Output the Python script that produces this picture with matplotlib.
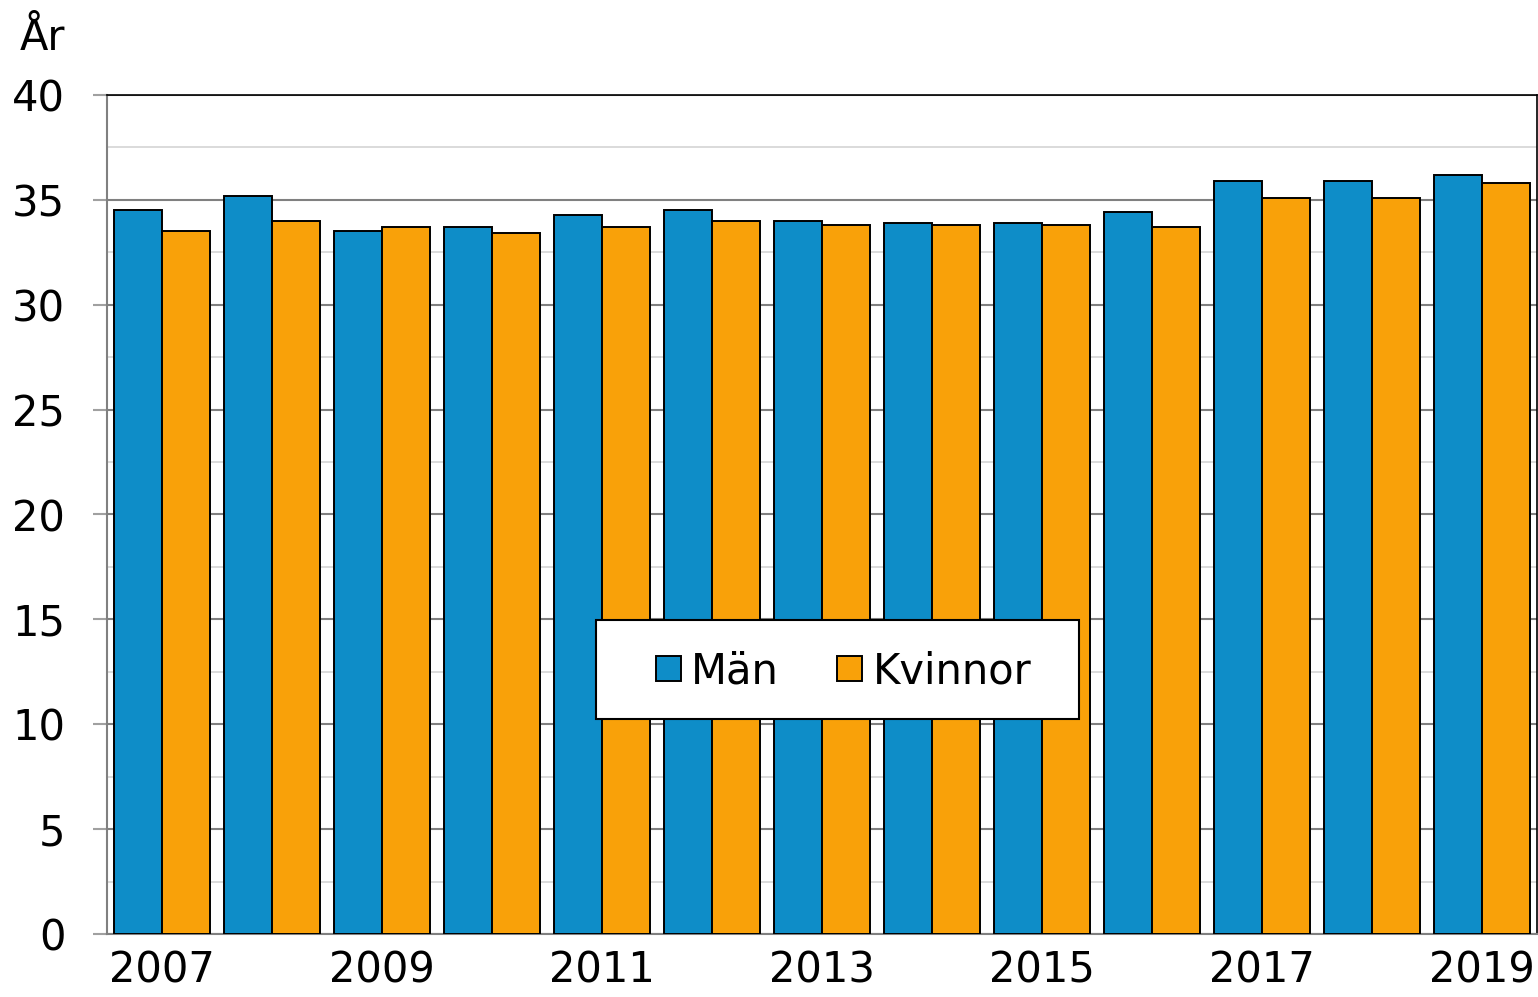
import numpy as np
import matplotlib
matplotlib.use('Agg')
import matplotlib.pyplot as plt
from matplotlib.ticker import MultipleLocator
from matplotlib.patches import Rectangle

# data
years = [2007, 2008, 2009, 2010, 2011, 2012, 2013, 2014, 2015, 2016, 2017, 2018, 2019]
man = [34.5, 35.2, 33.5, 33.7, 34.3, 34.5, 34.0, 33.9, 33.9, 34.4, 35.9, 35.9, 36.2]
kvinnor = [33.5, 34.0, 33.7, 33.4, 33.7, 34.0, 33.8, 33.8, 33.8, 33.7, 35.1, 35.1, 35.8]
year_labels = [str(y) if y % 2 == 1 else '' for y in years]

blue = '#0e8dc8'
orange = '#f9a109'

plt.rcParams['font.family'] = ['DejaVu Sans']

fig = plt.figure(figsize=(15.38, 9.97), dpi=100)
ax = fig.add_axes([107/1538, 1 - 934/997, 1430/1538, 839/997])

x = np.arange(len(years))
w = 48/110
ax.bar(x - w/2, man, width=w, color=blue, edgecolor='black', linewidth=1.4, label='Män', zorder=3)
ax.bar(x + w/2, kvinnor, width=w, color=orange, edgecolor='black', linewidth=1.4, label='Kvinnor', zorder=3)

ax.set_xlim(-0.5, len(years) - 0.5)
ax.set_ylim(0, 40)
ax.yaxis.set_major_locator(MultipleLocator(5))
ax.yaxis.set_minor_locator(MultipleLocator(2.5))
ax.grid(axis='y', which='major', color='#808080', linewidth=1.5, zorder=0)
ax.grid(axis='y', which='minor', color='#d4d4d4', linewidth=1.2, zorder=0)

ax.set_xticks(x)
ax.set_xticklabels(year_labels)
ax.tick_params(axis='x', length=0, pad=11, labelsize=30)
ax.tick_params(axis='y', which='major', length=10, width=1.5, color='#a0a0a0', pad=20, labelsize=30)
ax.tick_params(axis='y', which='minor', length=0)

for s in ['left', 'bottom']:
    ax.spines[s].set_color('#808080')
    ax.spines[s].set_linewidth(1.5)
for s in ['top', 'right']:
    ax.spines[s].set_color('black')
    ax.spines[s].set_linewidth(1.2)

fig.text(20/1538, 1 - 50/997, 'År', fontsize=30, ha='left', va='baseline')

# legend box drawn separately so it can be wider than the legend content
ax.add_patch(Rectangle((0.342, 0.256), 0.338, 0.118, transform=ax.transAxes,
                       facecolor='white', edgecolor='black', linewidth=1.5, zorder=4))
leg = ax.legend(loc='center', bbox_to_anchor=(0.515, 0.313), ncol=2, fontsize=30,
                frameon=False, handlelength=0.6, handleheight=0.55, handletextpad=0.25,
                columnspacing=1.4, borderpad=0.3)
leg.set_zorder(5)

fig.savefig('out.png', dpi=100)
